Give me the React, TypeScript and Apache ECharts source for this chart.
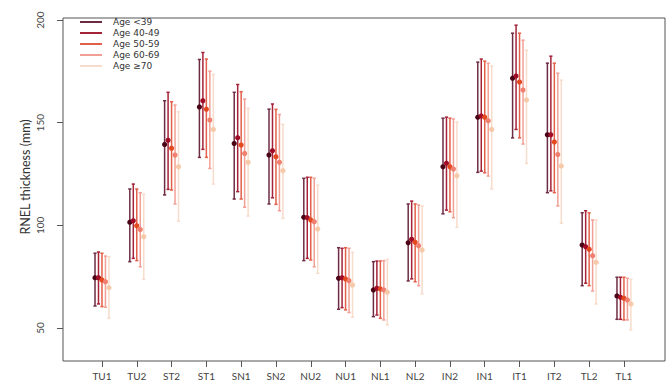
import React, { useEffect, useRef } from "react";
import * as echarts from "echarts";

const categories = ["TU1", "TU2", "ST2", "ST1", "SN1", "SN2", "NU2", "NU1", "NL1", "NL2", "IN2", "IN1", "IT1", "IT2", "TL2", "TL1"];
const ageGroups = ["Age <39", "Age 40-49", "Age 50-59", "Age 60-69", "Age \u226570"];

const meanLt39 = [74.5, 101.5, 139.4, 157.7, 139.9, 134.2, 103.9, 74.2, 68.5, 91.5, 128.5, 152.7, 171.7, 144.1, 90.4, 65.6];
const mean40 = [74.5, 102.2, 141.4, 160.7, 142.7, 136.3, 103.7, 74.5, 69.3, 93.2, 130.2, 153.2, 172.7, 144.1, 89.6, 64.9];
const mean50 = [73.4, 99.8, 137.6, 156.6, 139.1, 133.4, 102.6, 73.9, 69.0, 91.7, 128.5, 152.7, 169.8, 140.6, 88.3, 64.5];
const mean60 = [72.5, 98.0, 134.2, 151.3, 135.0, 130.7, 101.7, 73.0, 68.5, 90.1, 127.4, 150.9, 165.9, 134.5, 85.2, 63.6];
const mean70 = [69.6, 94.4, 128.5, 146.7, 130.7, 126.6, 98.2, 70.9, 67.4, 88.0, 124.1, 146.7, 161.0, 128.9, 82.0, 61.7];

const lowLt39 = [60.7, 82.3, 114.8, 133.1, 112.8, 110.4, 82.8, 59.1, 55.5, 72.9, 105.6, 125.8, 142.6, 115.9, 70.6, 54.2];
const low40 = [61.7, 83.9, 117.5, 137.0, 116.4, 113.4, 83.9, 59.9, 56.3, 73.9, 107.4, 126.4, 146.7, 116.8, 71.8, 54.2];
const low50 = [60.4, 82.8, 117.2, 133.1, 112.8, 110.2, 83.1, 58.8, 54.7, 72.5, 106.6, 125.6, 142.6, 115.9, 70.6, 53.9];
const low60 = [60.1, 79.8, 110.4, 127.7, 108.8, 107.1, 79.8, 57.5, 53.9, 70.6, 103.7, 124.0, 139.6, 109.4, 68.0, 53.9];
const low70 = [54.7, 73.7, 102.0, 120.1, 104.5, 103.4, 76.6, 55.2, 51.5, 66.6, 99.0, 117.7, 130.2, 101.0, 61.7, 49.0];

const highLt39 = [86.4, 117.7, 160.7, 180.8, 164.8, 156.6, 122.9, 89.1, 82.3, 110.4, 152.2, 179.5, 193.6, 179.0, 106.1, 74.7];
const high40 = [87.0, 120.1, 164.8, 184.2, 168.6, 159.1, 123.4, 88.8, 82.6, 111.8, 152.7, 181.0, 197.5, 182.4, 107.1, 74.7];
const high50 = [86.4, 117.7, 160.2, 181.0, 165.1, 156.5, 123.4, 89.1, 82.6, 110.4, 152.2, 180.0, 193.6, 179.0, 106.1, 74.7];
const high60 = [85.0, 115.9, 158.6, 175.1, 161.5, 154.0, 122.9, 88.8, 82.8, 109.9, 151.8, 179.0, 190.2, 174.1, 102.6, 74.2];
const high70 = [84.7, 115.2, 155.3, 173.5, 157.0, 149.2, 119.6, 86.8, 83.4, 109.4, 150.3, 177.6, 185.3, 170.7, 102.6, 73.7];

const yTicks = [50, 100, 150, 200];
const yTitle = "RNEL thickness (mm)";

const means = [meanLt39, mean40, mean50, mean60, mean70];
const lows = [lowLt39, low40, low50, low60, low70];
const highs = [highLt39, high40, high50, high60, high70];
const lineColors = ["#6e2c44", "#a52238", "#e2604a", "#f2a096", "#f8dccb"];
const pointColors = ["#4a0416", "#a00c26", "#e4481f", "#f07f70", "#f6c9a8"];
const offsets = [-0.2, -0.1, 0, 0.1, 0.2];

export default function App() {
  const ref = useRef<HTMLDivElement>(null);
  useEffect(() => {
    if (!ref.current) return;
    const chart = echarts.init(ref.current, null, { renderer: "svg" });
    const font = "Lato";
    const series = ageGroups.map((name, g) => ({
      name,
      type: "custom",
      itemStyle: { color: lineColors[g] },
      data: categories.map((_, i) => [i + offsets[g], lows[g][i], highs[g][i], means[g][i]]),
      renderItem: (params: any, api: any) => {
        const x = api.value(0);
        const lo = api.coord([x, api.value(1)]);
        const hi = api.coord([x, api.value(2)]);
        const m = api.coord([x, api.value(3)]);
        const cap = 1.6;
        const ls = { stroke: lineColors[g], lineWidth: 1.5 };
        return {
          type: "group",
          children: [
            { type: "line", shape: { x1: lo[0], y1: lo[1], x2: hi[0], y2: hi[1] }, style: ls },
            { type: "line", shape: { x1: lo[0] - cap, y1: lo[1], x2: lo[0] + cap, y2: lo[1] }, style: ls },
            { type: "line", shape: { x1: hi[0] - cap, y1: hi[1], x2: hi[0] + cap, y2: hi[1] }, style: ls },
            { type: "circle", shape: { cx: m[0], cy: m[1], r: 2.6 }, style: { fill: pointColors[g] } },
          ],
        };
      },
    }));
    chart.setOption({
      animation: false,
      backgroundColor: "#ffffff",
      textStyle: { fontFamily: font },
      grid: { left: 63, right: 2, top: 18, bottom: 25, show: true, borderColor: "#555", borderWidth: 1, containLabel: false },
      legend: {
        orient: "vertical",
        left: 80,
        top: 16.5,
        padding: 0,
        itemWidth: 22,
        itemHeight: 2,
        itemGap: 0,
        icon: "rect",
        textStyle: { fontSize: 9, color: "#333", fontFamily: "DejaVu Sans", lineHeight: 11, padding: [0, 0, 0, 6] },
        data: ageGroups,
      },
      graphic: [
        {
          type: "text",
          x: 25,
          y: 177,
          rotation: Math.PI / 2,
          style: { text: yTitle, fontSize: 12.5, fill: "#333", fontFamily: font, textAlign: "center", textVerticalAlign: "middle" },
        },
      ],
      xAxis: {
        type: "value",
        min: -1.12,
        max: 16.18,
        splitLine: { show: false },
        axisLine: { show: false, onZero: false },
        axisTick: { show: true, length: 6, customValues: categories.map((_, i) => i), lineStyle: { color: "#555" } },
        axisLabel: {
          customValues: categories.map((_, i) => i),
          formatter: (v: number) => categories[Math.round(v)] ?? "",
          fontSize: 10,
          color: "#444",
          margin: 10,
          fontFamily: font,
        },
      },
      yAxis: {
        type: "value",
        min: 33.9,
        max: 201,
        splitLine: { show: false },
        axisLine: { show: false, onZero: false },
        axisTick: { show: true, length: 6, customValues: yTicks, lineStyle: { color: "#555" } },
        axisLabel: { customValues: yTicks, rotate: 90, fontSize: 10, color: "#444", margin: 18, fontFamily: font },
      },
      series,
    });
    return () => chart.dispose();
  }, []);
  return <div ref={ref} style={{ position: "fixed", left: 0, top: 0, width: 667, height: 386 }} />;
}
